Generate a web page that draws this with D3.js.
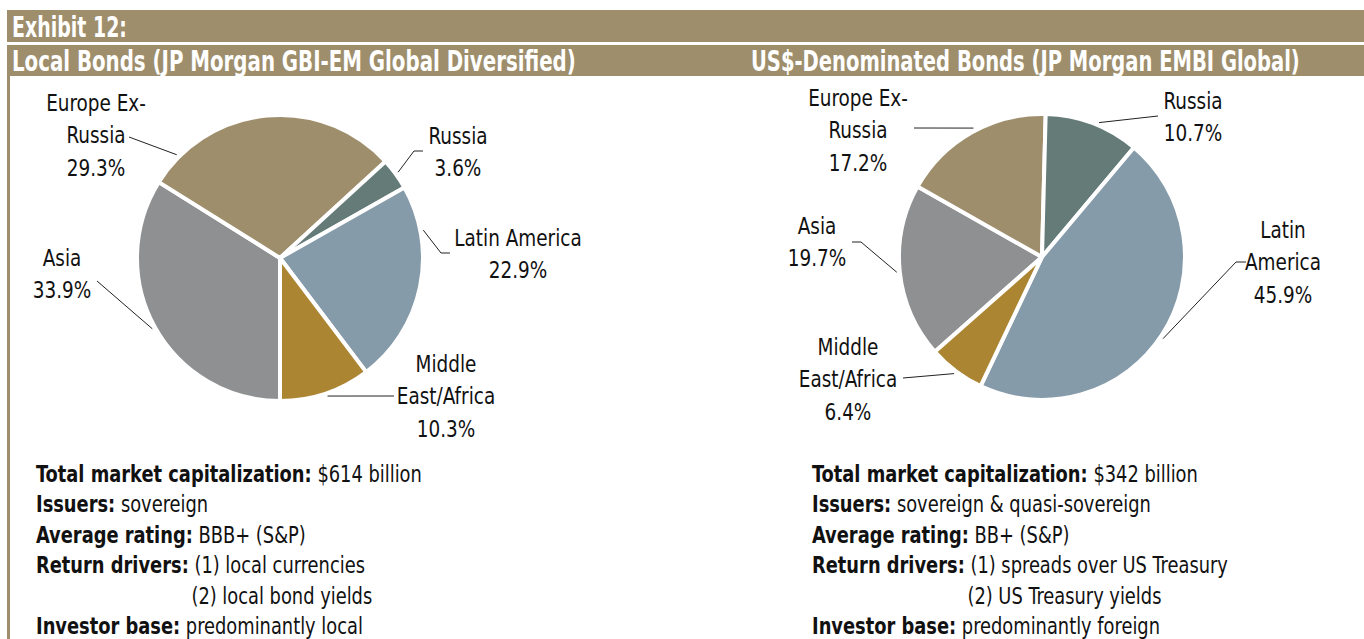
<!DOCTYPE html>
<html>
<head>
<meta charset="utf-8">
<script src="https://cdn.jsdelivr.net/npm/d3@7"></script>
<style>
  body { margin: 0; background: #fff; }
  svg { display: block; font-family: "Liberation Sans Narrow", "DejaVu Sans Condensed", "Roboto", sans-serif; }
  .band { fill: #9e8e6c; }
  .head { fill: #fff; font-weight: bold; font-size: 28px; }
  .lbl { fill: #111; font-size: 23px; text-anchor: middle; }
  .leader { fill: none; stroke: #222; stroke-width: 1; }
  .body { fill: #111; font-size: 23px; }
  .body .b { font-weight: bold; }
</style>
</head>
<body>
<div id="chart"></div>
<script>
// data
var categories = ['Asia', 'Europe Ex-Russia', 'Russia', 'Latin America', 'Middle East/Africa'];
var localShares = [33.9, 29.3, 3.6, 22.9, 10.3];
var usdShares = [19.7, 17.2, 10.7, 45.9, 6.4];
var colors = ['#8f9092', '#9e8e6c', '#647b77', '#859baa', '#ac8533'];

var exhibitTitle = 'Exhibit 12:';
var localTitle = 'Local Bonds (JP Morgan GBI-EM Global Diversified)';
var usdTitle = 'US$-Denominated Bonds (JP Morgan EMBI Global)';

// label text lines per slice (pct appended)
var localLabels = [['Asia'], ['Europe Ex-', 'Russia'], ['Russia'], ['Latin America'], ['Middle', 'East/Africa']];
var usdLabels = [['Asia'], ['Europe Ex-', 'Russia'], ['Russia'], ['Latin', 'America'], ['Middle', 'East/Africa']];

var localFacts = [
  ['Total market capitalization:', ' $614 billion'],
  ['Issuers:', ' sovereign'],
  ['Average rating:', ' BBB+ (S&P)'],
  ['Return drivers:', ' (1) local currencies'],
  ['', '(2) local bond yields'],
  ['Investor base:', ' predominantly local']
];
var usdFacts = [
  ['Total market capitalization:', ' $342 billion'],
  ['Issuers:', ' sovereign & quasi-sovereign'],
  ['Average rating:', ' BB+ (S&P)'],
  ['Return drivers:', ' (1) spreads over US Treasury'],
  ['', '(2) US Treasury yields'],
  ['Investor base:', ' predominantly foreign']
];

///////////////////////////////////////////////////////////////
// layout
///////////////////////////////////////////////////////////////
var W = 1364, H = 639;

var svg = d3.select('#chart').append('svg')
  .attr('width', W)
  .attr('height', H);

svg.append('rect').attr('width', W).attr('height', H).attr('fill', '#fff');

// narrow the fallback font horizontally around its anchor
function squeeze(sel, ax, k) {
  sel.attr('transform', 'translate(' + ax + ',0) scale(' + k + ',1) translate(' + (-ax) + ',0)');
}

// header bands
svg.append('rect').attr('class', 'band').attr('x', 7).attr('y', 10).attr('width', W - 7).attr('height', 32);
svg.append('rect').attr('class', 'band').attr('x', 7).attr('y', 45).attr('width', W - 7).attr('height', 31);
svg.append('rect').attr('class', 'band').attr('x', 7).attr('y', 76).attr('width', 3).attr('height', H - 76);

function header(x, y, txt, target) {
  var t = svg.append('text').attr('class', 'head').attr('x', x).attr('y', y).text(txt);
  squeeze(t, x, target / t.node().getComputedTextLength());
}
header(12, 37, exhibitTitle, 115);
header(12, 71, localTitle, 564);
header(751, 71, usdTitle, 549);

///////////////////////////////////////////////////////////////
// pies
///////////////////////////////////////////////////////////////
var radius = 143;

// label placement: x, first baseline, leader points (label side) and rim angle (deg) for the leader end
var localPlace = [
  { x: 62, y: 266, pts: [[97, 281]], rim: 241 },
  { x: 96, y: 111, pts: [[129, 137]], rim: 315 },
  { x: 458, y: 144, pts: [[423, 151], [414, 151]], rim: 54 },
  { x: 518, y: 246, pts: [[450, 253], [441, 253]], rim: 79 },
  { x: 446, y: 372, pts: [[394, 396]], rim: 161 }
];
var usdPlace = [
  { x: 817, y: 234, pts: [[852, 242], [861, 242]], rim: 264 },
  { x: 858, y: 106, pts: [[914, 128]], rim: 332 },
  { x: 1193, y: 109, pts: [[1158, 116]], rim: 23 },
  { x: 1283, y: 238, pts: [[1246, 262], [1236, 262]], rim: 124 },
  { x: 848, y: 355, pts: [[903, 378]], rim: 217 }
];

function drawPie(cx, cy, values, labels, place, startDeg) {
  var pie = d3.pie()
    .sort(null)
    .value(d => d)
    .startAngle(startDeg * Math.PI / 180)
    .endAngle((startDeg + 360) * Math.PI / 180);

  var arc = d3.arc().innerRadius(0).outerRadius(radius);

  var g = svg.append('g')
    .attr('transform', 'translate(' + cx + ',' + cy + ')');

  g.selectAll('.slice')
    .data(pie(values))
    .enter()
    .append('path')
    .attr('class', 'slice')
    .attr('d', arc)
    .attr('fill', (d, i) => colors[i])
    .attr('stroke', '#fff')
    .attr('stroke-width', 4)
    .attr('stroke-linejoin', 'round');

  // leaders + labels
  var line = d3.line();
  place.forEach(function (p, i) {
    var a = p.rim * Math.PI / 180;
    var end = [cx + (radius + 3) * Math.sin(a), cy - (radius + 3) * Math.cos(a)];
    svg.append('path')
      .attr('class', 'leader')
      .attr('d', line(p.pts.concat([end])));

    var lines = labels[i].concat([values[i].toFixed(1) + '%']);
    var t = svg.append('text')
      .attr('class', 'lbl')
      .attr('x', p.x)
      .attr('y', p.y);
    t.selectAll('tspan')
      .data(lines)
      .enter()
      .append('tspan')
      .attr('x', p.x)
      .attr('dy', (d, j) => j === 0 ? 0 : 32.5)
      .text(d => d);
    squeeze(t, p.x, 0.89);
  });
}

drawPie(280, 258, localShares, localLabels, localPlace, 180);
drawPie(1042, 257, usdShares, usdLabels, usdPlace, 228.5);

///////////////////////////////////////////////////////////////
// fact lists
///////////////////////////////////////////////////////////////
function drawFacts(x, facts, firstWidth) {
  var indent = 0, k = 1;
  facts.forEach(function (f, i) {
    var t = svg.append('text')
      .attr('class', 'body')
      .attr('x', x)
      .attr('y', 482 + i * 30.4);
    if (f[0]) {
      t.append('tspan').attr('class', 'b').text(f[0]);
      var rest = t.append('tspan').text(f[1]);
      if (i === 0) k = firstWidth / t.node().getComputedTextLength();
      if (f[1].indexOf('(1)') >= 0) {
        indent = t.node().getComputedTextLength() - rest.node().getComputedTextLength();
        indent += 6;
      }
    } else {
      t.attr('x', x + indent - 3).text(f[1]);
    }
    squeeze(t, x, k);
  });
}

drawFacts(36, localFacts, 386);
drawFacts(812, usdFacts, 386);
</script>
</body>
</html>
